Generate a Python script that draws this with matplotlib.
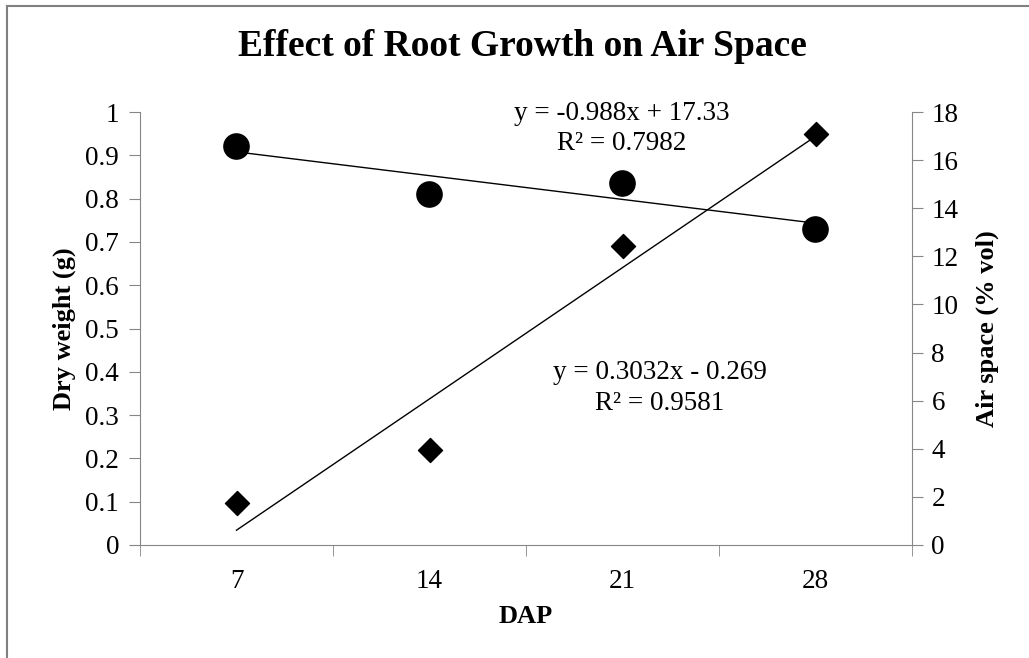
import matplotlib.pyplot as plt
import numpy as np
from matplotlib.lines import Line2D

plt.rcParams["font.family"] = ["Liberation Serif", "DejaVu Serif"]

AXIS_GREY = "#868686"

dap = ["7", "14", "21", "28"]
dry_weight = [0.097, 0.22, 0.69, 0.95]      # left axis, diamonds
air_space = [16.6, 14.6, 15.05, 13.15]      # right axis, circles

# Excel linear trendline coefficients (x = category index 1..4)
dry_fit = (0.3032, -0.269)
air_fit = (-0.988, 17.33)

fig = plt.figure(figsize=(10.29, 6.58), dpi=100)
fig.patch.set_facecolor("white")
W, H = 1029, 658
ax = fig.add_axes([140 / W, 1 - 545 / H, (912 - 140) / W, (545 - 112) / H])
ax2 = ax.twinx()

x = np.arange(1, len(dap) + 1)

ax.scatter(x, dry_weight, marker="D", s=150, c="black", zorder=5, clip_on=False)
ax.plot(x, dry_fit[0] * x + dry_fit[1], color="black", lw=1.0)

ax2.scatter(x, air_space, marker="o", s=330, c="black", zorder=5, clip_on=False)
ax2.plot(x, air_fit[0] * x + air_fit[1], color="black", lw=1.0)

ax.set_xlim(0.5, 4.5)
ax.set_ylim(0, 1)
ax2.set_ylim(0, 18)
ax.set_yticks(np.arange(0, 1.01, 0.1))
ax.set_yticklabels(["0", "0.1", "0.2", "0.3", "0.4", "0.5", "0.6", "0.7", "0.8", "0.9", "1"])
ax2.set_yticks(np.arange(0, 19, 2))
ax.set_xticks(x)
ax.set_xticklabels(dap)
ax.set_xticks(np.arange(0.5, 4.6, 1), minor=True)

for a in (ax, ax2):
    a.spines["top"].set_visible(False)
    for side in ("left", "right", "bottom"):
        a.spines[side].set_color(AXIS_GREY)
ax.spines["right"].set_visible(False)
ax2.spines["left"].set_visible(False)
ax2.spines["bottom"].set_visible(False)

ax.tick_params(axis="x", which="major", length=0, labelsize=19.5, pad=17)
ax.tick_params(axis="x", which="minor", length=8, color=AXIS_GREY, direction="out")
ax.tick_params(axis="y", length=8, color=AXIS_GREY, labelsize=19.5, pad=7)
ax2.tick_params(axis="y", length=8, color=AXIS_GREY, labelsize=19.5, pad=6)

ax.set_xlabel("DAP", fontsize=19, fontweight="bold")
ax.set_ylabel("Dry weight (g)", fontsize=19, fontweight="bold")
ax2.set_ylabel("Air space (% vol)", fontsize=19, fontweight="bold")
ax.xaxis.set_label_coords(0.5, -0.164)
ax.yaxis.set_label_coords(-0.098, 0.5)
ax2.yaxis.set_label_coords(1.097, 0.5)
ax.xaxis.label.set_va("center")
ax.yaxis.label.set_va("center")
ax2.yaxis.label.set_va("center")

fig.text(522 / W, 1 - 46 / H, "Effect of Root Growth on Air Space",
         ha="center", va="center", fontsize=27, fontweight="bold")

fig.text(622 / W, 1 - 113 / H, "y = -0.988x + 17.33", ha="center", va="center", fontsize=19.5)
fig.text(622 / W, 1 - 143 / H, "R² = 0.7982", ha="center", va="center", fontsize=19.5)
fig.text(660 / W, 1 - 373 / H, "y = 0.3032x - 0.269", ha="center", va="center", fontsize=19.5)
fig.text(660 / W, 1 - 403 / H, "R² = 0.9581", ha="center", va="center", fontsize=19.5)

# chart area border (top and left edges visible in the frame)
fig.add_artist(Line2D([7 / W, 1], [1 - 6 / H, 1 - 6 / H], color="#808080", lw=1.5))
fig.add_artist(Line2D([7 / W, 7 / W], [0, 1 - 6 / H], color="#808080", lw=1.5))

fig.savefig("out.png", dpi=100, facecolor="white")
